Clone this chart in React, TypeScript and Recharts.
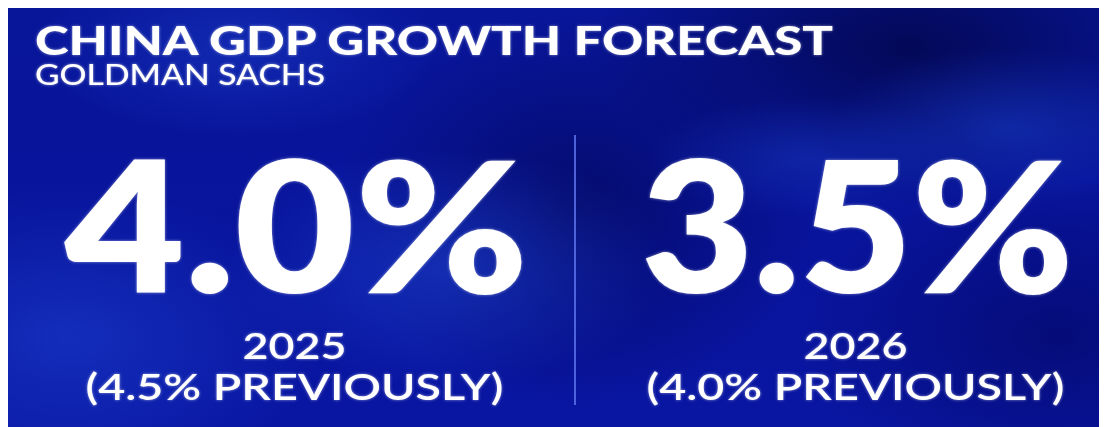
import { BarChart, Bar, XAxis, YAxis, LabelList, ReferenceLine } from 'recharts';

const years = ['2025', '2026'];
const forecast = [4.0, 3.5];
const previous = [4.5, 4.0];

const title = 'CHINA GDP GROWTH FORECAST';
const source = 'GOLDMAN SACHS';

const data = years.map((year, i) => ({ year, forecast: forecast[i], previous: previous[i] }));

const FONT = 'Lato, "Open Sans", sans-serif';
const glow = 'drop-shadow(0 0 1.5px rgba(255,255,255,0.5))';

// rough glyph advances (em) of the wide geometric face used in the original
const glyphEm: Record<string, number> = { '0': 0.72, '1': 0.45, '2': 0.62, '3': 0.62, '4': 0.7, '5': 0.63, '6': 0.66, '7': 0.6, '8': 0.66, '9': 0.66, '.': 0.25, '%': 0.85 };
const textWidth = (s: string, size: number) => s.split('').reduce((a, c) => a + (glyphEm[c] ?? 0.6), 0) * size;

const background = [
  'radial-gradient(ellipse 260px 150px at 60px 330px, rgba(30,70,215,0.5), transparent)',
  'radial-gradient(ellipse 220px 120px at 440px 260px, rgba(35,80,225,0.45), transparent)',
  'radial-gradient(ellipse 200px 90px at 230px 40px, rgba(30,70,210,0.4), transparent)',
  'radial-gradient(ellipse 180px 80px at 1000px 120px, rgba(30,75,220,0.4), transparent)',
  'radial-gradient(ellipse 160px 60px at 800px 150px, rgba(30,70,215,0.35), transparent)',
  'radial-gradient(ellipse 320px 160px at 900px 40px, rgba(2,5,70,0.8), transparent)',
  'radial-gradient(ellipse 240px 200px at 570px 200px, rgba(3,6,85,0.65), transparent)',
  'radial-gradient(ellipse 260px 160px at 1050px 330px, rgba(3,6,95,0.6), transparent)',
  'linear-gradient(180deg, #08169a 0%, #08149c 60%, #0916a2 100%)',
].join(', ');

function BigValue(props: any) {
  const vb = props.viewBox ?? props;
  const x = Number(vb.x);
  const y = Number(vb.y);
  const width = Number(vb.width);
  const height = Number(vb.height);
  const cx = x + width / 2;
  const bottom = y + height;
  const label = `${Number(props.value).toFixed(1)}%`;
  return (
    <text
      x={cx + 2}
      y={bottom - 112}
      textAnchor="middle"
      fill="#ffffff"
      fontFamily={FONT}
      fontWeight={800}
      fontSize={182}
      textLength={textWidth(label, 184)}
      lengthAdjust="spacingAndGlyphs"
      style={{ filter: glow }}
    >
      {label}
    </text>
  );
}

function YearTick(props: any) {
  const { x, y, payload } = props;
  const row = data.find((d) => d.year === payload.value);
  const prev = row ? row.previous : 0;
  return (
    <g style={{ filter: glow }}>
      <text x={x} y={y - 46} textAnchor="middle" fill="#ffffff" fontFamily={FONT} fontWeight={600} fontSize={36} textLength={104} lengthAdjust="spacingAndGlyphs">
        {payload.value}
      </text>
      <text x={x} y={y - 5} textAnchor="middle" fill="#ffffff" fontFamily={FONT} fontWeight={600} fontSize={37} textLength={418} lengthAdjust="spacingAndGlyphs">
        ({prev.toFixed(1)}% PREVIOUSLY)
      </text>
    </g>
  );
}

export default function App() {
  return (
    <div
      style={{
        position: 'relative',
        width: 1099,
        height: 420,
        marginTop: -1,
        overflow: 'hidden',
        background,
      }}
    >
      <svg width={1099} height={110} style={{ position: 'absolute', left: 0, top: 0 }}>
        <g style={{ filter: glow }}>
          <text x={27} y={48} fill="#ffffff" fontFamily={FONT} fontWeight={900} fontSize={39} textLength={798} lengthAdjust="spacingAndGlyphs">
            {title}
          </text>
          <text x={27} y={78} fill="#ffffff" fontFamily={FONT} fontWeight={500} fontSize={29} textLength={290} lengthAdjust="spacingAndGlyphs">
            {source}
          </text>
        </g>
      </svg>
      <div style={{ position: 'absolute', left: 0, top: 0 }}>
        <BarChart
          width={1140}
          height={420}
          data={data}
          margin={{ top: 128, right: 12, bottom: 0, left: 6 }}
          barCategoryGap={0}
        >
          <XAxis
            dataKey="year"
            height={22}
            axisLine={false}
            tickLine={false}
            tickSize={0}
            tickMargin={0}
            interval={0}
            tick={<YearTick />}
          />
          <YAxis hide domain={[0, 5]} />
          <ReferenceLine x="2026" position="start" stroke="#5a70ea" strokeOpacity={0.85} strokeWidth={2} />
          <Bar dataKey="forecast" fill="transparent" isAnimationActive={false}>
            <LabelList dataKey="forecast" content={<BigValue />} />
          </Bar>
        </BarChart>
      </div>
    </div>
  );
}
